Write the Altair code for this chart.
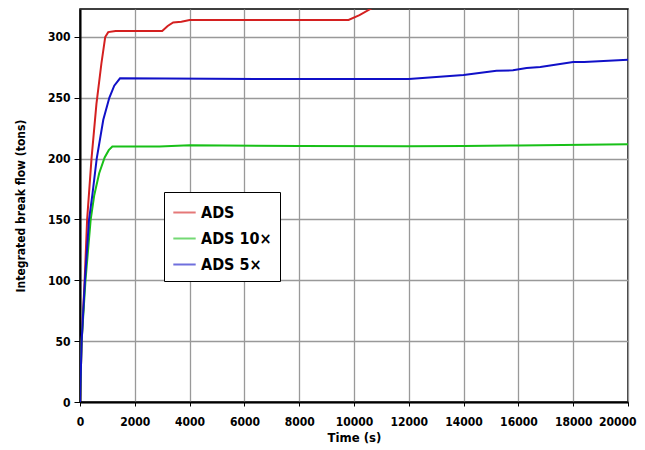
import altair as alt
import pandas as pd

# ADS (red)
t_ads = [0, 60, 170, 260, 420, 600, 780, 920, 1030, 1300, 3000, 3200, 3400, 3700, 4000, 9800, 10200, 10600, 11300]
v_ads = [0, 50, 100, 150, 200, 245, 278, 300, 304, 305, 305, 309, 312, 312.5, 314, 314, 318, 323, 332]

# ADS 10x (green)
t_ads10 = [0, 60, 200, 390, 520, 700, 900, 1050, 1180, 2900, 4000, 8000, 12000, 14000, 16000, 20000]
v_ads10 = [0, 50, 100, 150, 170, 188, 201, 207, 210, 210, 211, 210.5, 210.2, 210.4, 210.8, 211.8]

# ADS 5x (blue)
t_ads5 = [0, 60, 180, 330, 450, 610, 850, 1070, 1250, 1460, 7000, 12000, 14000, 15200, 15800, 16300, 16800, 18000, 18400, 20000]
v_ads5 = [0, 50, 100, 150, 170, 200, 232, 250, 260, 266, 265.5, 265.5, 268.8, 272.3, 272.6, 274.5, 275.3, 279.4, 279.4, 281.3]

series = ["ADS", "ADS 10\u00d7", "ADS 5\u00d7"]
colors = ["#d42020", "#18c018", "#1010c8"]

rows = []
for name, ts, vs in [(series[0], t_ads, v_ads), (series[1], t_ads10, v_ads10), (series[2], t_ads5, v_ads5)]:
    for i, (t, v) in enumerate(zip(ts, vs)):
        rows.append({"series": name, "t": t, "v": v, "i": i})
df = pd.DataFrame(rows)

FONT = "DejaVu Sans Condensed, Liberation Sans, sans-serif"

chart = alt.Chart(df).mark_line(clip=True, strokeWidth=2).encode(
    x=alt.X("t:Q",
            scale=alt.Scale(domain=[0, 20000], nice=False),
            axis=alt.Axis(title="Time (s)", values=list(range(0, 20001, 2000)), format="d",
                          grid=True, gridColor="#999999", gridWidth=1.3,
                          domainColor="black", domainWidth=2, tickColor="black", tickSize=4,
                          labelFont=FONT, labelFontWeight="bold", labelFontSize=12, labelColor="black",
                          labelAlign=alt.expr("datum.value == 20000 ? 'right' : 'center'"),
                          labelOffset=alt.expr("datum.value == 20000 ? 8 : 0"),
                          titleFont=FONT, titleFontWeight="bold", titleFontSize=13, titleColor="black",
                          labelPadding=10, titlePadding=4, labelFlush=False)),
    y=alt.Y("v:Q",
            scale=alt.Scale(domain=[0, 323], nice=False, zero=True),
            axis=alt.Axis(title="Integrated break flow   (tons)", values=list(range(0, 301, 50)),
                          grid=True, gridColor="#999999", gridWidth=1.3,
                          domainColor="black", domainWidth=2, tickColor="black", tickSize=6,
                          labelFont=FONT, labelFontWeight="bold", labelFontSize=12, labelColor="black",
                          titleFont=FONT, titleFontWeight="bold", titleFontSize=12, titleColor="black",
                          labelPadding=4, titlePadding=20)),
    color=alt.Color("series:N",
                    scale=alt.Scale(domain=series, range=colors),
                    sort=series,
                    legend=alt.Legend(title=None, orient="none", legendX=84, legendY=183,
                                      symbolType="stroke", symbolSize=500, symbolStrokeWidth=2,
                                      symbolOpacity=0.6,
                                      labelFont=FONT, labelFontWeight="bold", labelFontSize=16,
                                      labelColor="black", rowPadding=5,
                                      strokeColor="black", fillColor="white", padding=8,
                                      labelLimit=200)),
    order="i:Q",
).properties(
    width=548, height=393,
    autosize=alt.AutoSizeParams(type="none"),
    padding={"left": 72, "top": 1, "right": 9, "bottom": 47},
).configure_view(stroke="black", strokeWidth=1.5)

chart.save("out.html", embed_options={"renderer": "svg", "actions": False})
